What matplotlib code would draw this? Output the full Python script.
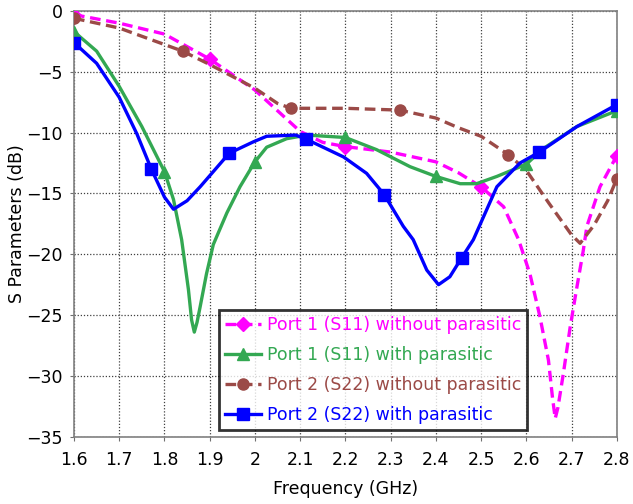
import matplotlib
matplotlib.use("Agg")
import matplotlib.pyplot as plt
import numpy as np

# Port 1 (S11) without parasitic
f_s11_np = [1.60, 1.70, 1.80, 1.90, 2.00, 2.05, 2.10, 2.15, 2.20, 2.30, 2.40, 2.45,
            2.50, 2.55, 2.583, 2.608, 2.630, 2.649, 2.658, 2.664, 2.670, 2.682, 2.697,
            2.711, 2.726, 2.734, 2.763, 2.80]
s11_np = [-0.3, -1.0, -1.9, -3.95, -6.5, -8.2, -9.9, -10.8, -11.15, -11.6, -12.4, -13.3,
          -14.45, -16.1, -18.8, -21.6, -25.1, -28.7, -31.8, -33.5, -32.6, -29.8, -26.0,
          -22.9, -19.7, -17.7, -14.45, -11.9]
mk_s11_np = [0, 3, 8, 12, 27]

# Port 1 (S11) with parasitic
f_s11_p = [1.60, 1.65, 1.70, 1.75, 1.80, 1.82, 1.838, 1.853, 1.860, 1.866, 1.872,
           1.879, 1.893, 1.908, 1.938, 1.967, 2.00, 2.026, 2.07, 2.115, 2.20, 2.269,
           2.343, 2.40, 2.454, 2.49, 2.535, 2.60, 2.638, 2.712, 2.80]
s11_p = [-1.7, -3.3, -6.2, -9.5, -13.2, -15.5, -18.8, -22.9, -25.4, -26.4, -25.6,
         -24.3, -21.6, -19.2, -16.6, -14.45, -12.4, -11.2, -10.5, -10.2, -10.4, -11.4,
         -12.8, -13.6, -14.2, -14.2, -13.6, -12.6, -11.3, -9.5, -8.2]
mk_s11_p = [0, 4, 16, 20, 23, 27, 30]

# Port 2 (S22) without parasitic
f_s22_np = [1.60, 1.70, 1.84, 1.90, 2.00, 2.05, 2.08, 2.20, 2.32, 2.40, 2.45, 2.50,
            2.56, 2.60, 2.65, 2.70, 2.719, 2.75, 2.78, 2.80]
s22_np = [-0.6, -1.4, -3.3, -4.4, -6.35, -7.6, -8.0, -8.0, -8.15, -8.8, -9.6, -10.3,
          -11.8, -13.1, -15.8, -18.4, -19.1, -17.6, -15.6, -13.8]
mk_s22_np = [0, 2, 6, 8, 12, 19]

# Port 2 (S22) with parasitic
f_s22_p = [1.60, 1.65, 1.70, 1.739, 1.771, 1.80, 1.82, 1.85, 1.879, 1.943, 1.997,
           2.026, 2.09, 2.114, 2.196, 2.247, 2.286, 2.328, 2.35, 2.38, 2.406, 2.431,
           2.457, 2.483, 2.535, 2.586, 2.629, 2.712, 2.80]
s22_p = [-2.6, -4.3, -7.1, -10.1, -13.0, -15.3, -16.3, -15.6, -14.45, -11.7, -10.75,
         -10.3, -10.2, -10.55, -12.0, -13.35, -15.1, -17.7, -18.8, -21.3, -22.5,
         -21.85, -20.3, -18.8, -14.45, -12.5, -11.6, -9.5, -7.7]
mk_s22_p = [0, 4, 9, 13, 16, 22, 26, 28]

fig = plt.figure(figsize=(6.33, 5.04), dpi=100)
ax = fig.add_axes([0.1169, 0.1335, 0.8574, 0.8447])

lw = 2.4
ax.plot(f_s11_np, s11_np, color="#ff00ff", ls=(0, (3.2, 1.7)), lw=lw, marker="D",
        ms=7, markevery=mk_s11_np, label="Port 1 (S11) without parasitic", zorder=3)
ax.plot(f_s11_p, s11_p, color="#33a852", ls="-", lw=lw, marker="^",
        ms=9, markevery=mk_s11_p, label="Port 1 (S11) with parasitic", zorder=4)
ax.plot(f_s22_np, s22_np, color="#9b4a47", ls=(0, (3.2, 1.7)), lw=lw, marker="o",
        ms=8, markevery=mk_s22_np, label="Port 2 (S22) without parasitic", zorder=3)
ax.plot(f_s22_p, s22_p, color="#0000ff", ls="-", lw=lw, marker="s",
        ms=8, markevery=mk_s22_p, label="Port 2 (S22) with parasitic", zorder=5)

ax.set_xlim(1.6, 2.8)
ax.set_ylim(-35, 0)
ax.set_xticks(np.arange(1.6, 2.81, 0.1))
ax.set_xticklabels(["1.6", "1.7", "1.8", "1.9", "2", "2.1", "2.2", "2.3", "2.4",
                    "2.5", "2.6", "2.7", "2.8"])
ax.set_yticks(np.arange(-35, 1, 5))
ax.tick_params(axis="x", labelsize=12.5, length=3, color="#707070", pad=7)
ax.tick_params(axis="y", labelsize=12.5, length=3, color="#707070", pad=5)
ax.grid(True, ls=(0, (1, 1.5)), color="#404040", lw=0.9)
for s in ax.spines.values():
    s.set_color("#808080")
    s.set_linewidth(1.2)

ax.set_xlabel("Frequency (GHz)", fontsize=12.5, labelpad=8)
ax.set_ylabel("S Parameters (dB)", fontsize=12.5, labelpad=0)

leg = ax.legend(loc="lower left", bbox_to_anchor=(0.267, 0.016), fontsize=12.5,
                frameon=True, fancybox=False, handlelength=2.1, handletextpad=0.3,
                borderpad=0.35, labelspacing=0.68, borderaxespad=0)
leg.get_frame().set_edgecolor("black")
leg.get_frame().set_linewidth(2)
for txt, ln in zip(leg.get_texts(), leg.get_lines()):
    txt.set_color(ln.get_color())
leg.set_zorder(10)

fig.savefig("out.png", dpi=100)
